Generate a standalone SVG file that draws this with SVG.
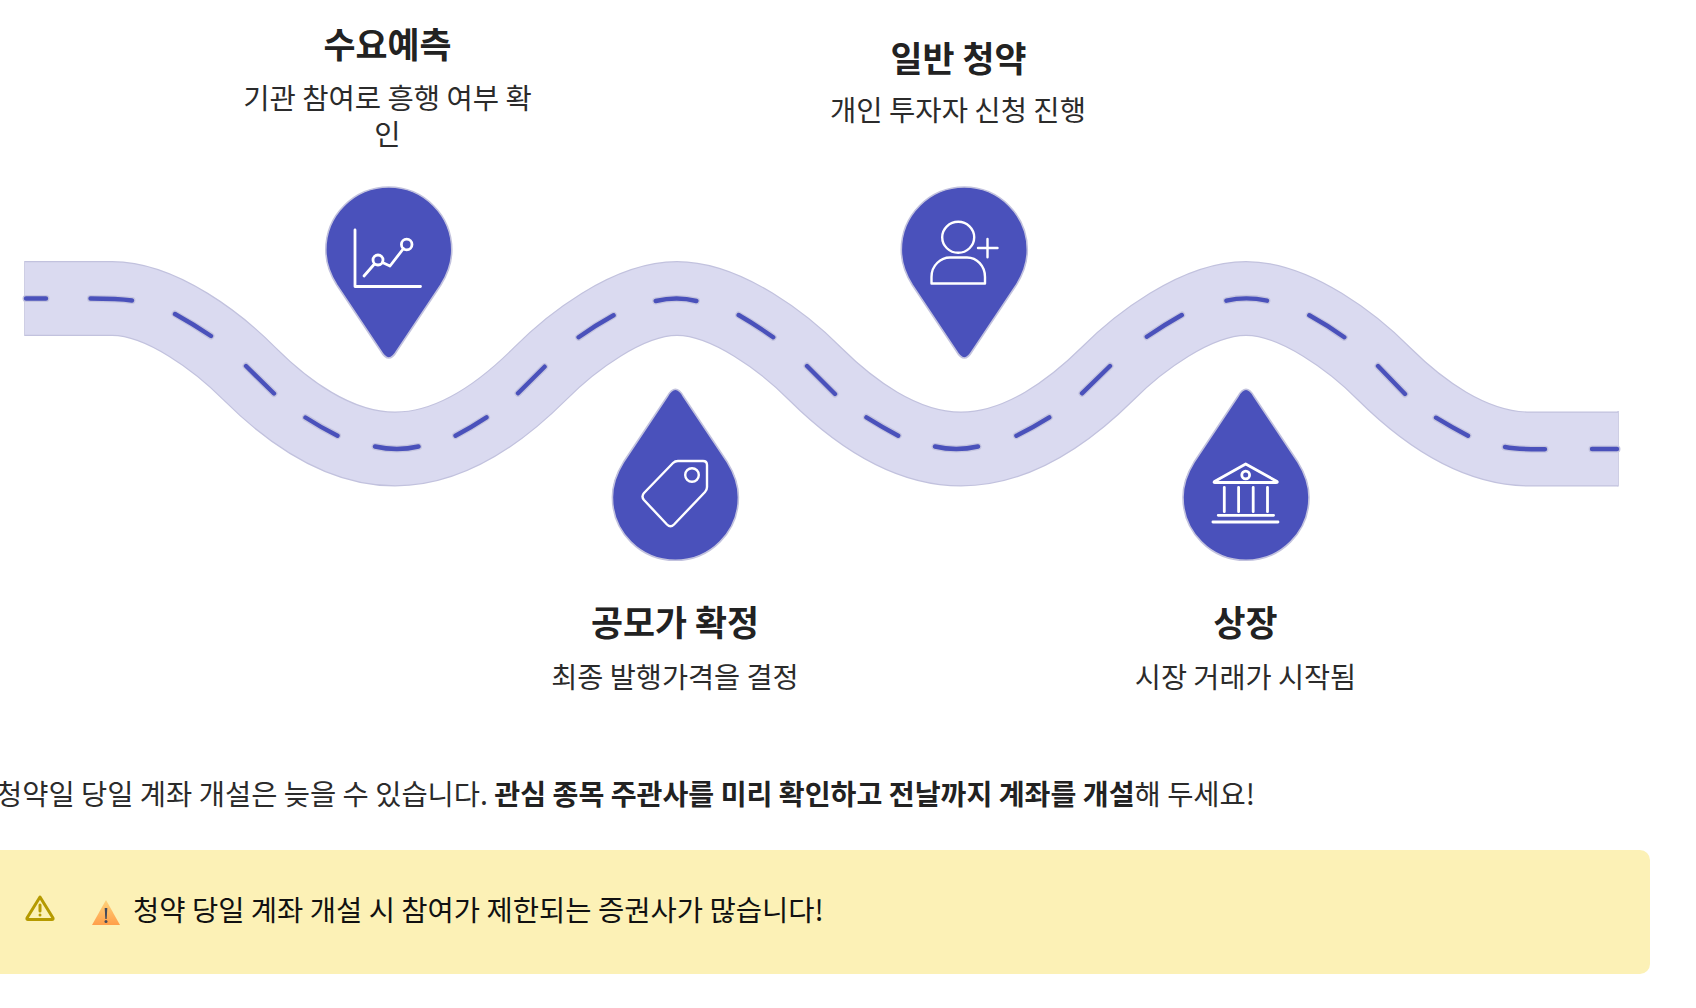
<svg xmlns="http://www.w3.org/2000/svg" width="1696" height="1008" viewBox="0 0 1696 1008">
<style>
text{font-family:"Noto Sans CJK KR","Noto Sans",sans-serif;fill:#2b2b2b}
.t{font-size:34.8px;font-weight:700;text-anchor:middle;fill:#222}
.d{font-size:28.6px;text-anchor:middle}
.d2{font-size:28.35px;text-anchor:middle}
.p{font-size:28.5px}
.road{fill:none;stroke-linejoin:round}
.dash{fill:none;stroke-linecap:round}
.pin{fill:#4a51bb;stroke:#c2c2de;stroke-width:1.6}
.ic{fill:none;stroke:#fff;stroke-width:2.8;stroke-linecap:round;stroke-linejoin:round}
</style>
<defs>
<path id="pinShape" d="M0,-63 C34.8,-63 63,-34.8 63,0 C63,12.5 59.5,23 52,35 L8,101 Q0,115 -8,101 L-52,35 C-59.5,23 -63,12.5 -63,0 C-63,-34.8 -34.8,-63 0,-63 Z"/>
<path id="roadPath" d="M25,298.5 H112 C162,298.5 219.6,343.5 249.5,373.75 C283.4,407.5 336.2,449 395,449 C453.6,449 506.2,407.5 540,373.75 C569.8,343.5 627.4,298.5 677,298.5 C727,298.5 785,343.5 815,373.75 C849,407.5 902,449 961,449 C1020.2,449 1073.4,407.5 1107.5,373.75 C1137.6,343.5 1195.8,298.5 1246,298.5 C1296,298.5 1354,343.5 1384,373.75 C1418,407.5 1471,449 1530,449 H1618"/>
<linearGradient id="emo" x1="0" y1="0" x2="0" y2="1"><stop offset="0" stop-color="#ffd27a"/><stop offset="1" stop-color="#ff9f4a"/></linearGradient>
<path id="dashes" d="M26,298.5 H46 M90.5,298.5 Q118,298.5 132,300.5 M175,314 Q193,324 211,336 M246,366 L274,393.5 M305.5,417.5 Q321,427.5 337.5,435.7 M375,446.5 Q397,451.5 418.5,446.5 M455.5,435.7 Q471,427.5 486.5,417.3 M518,393.3 L544.6,366.7 M578.6,337.3 Q596,325 613.6,315.3 M655.7,301 Q677,296 696.4,301 M738.6,315 Q756,325 773.2,337.3 M807,366 L835,394 M866.4,417.3 Q882,427 898.2,435.7 M935,446.5 Q956,451.5 978,446.5 M1016.4,435.7 Q1033,427.5 1049.3,417.3 M1082,393.3 L1110,366 M1146.8,336.7 Q1164,325 1181.8,315 M1226.4,300.7 Q1246,296 1267,300.7 M1309.3,315.3 Q1327,325 1344.3,337.3 M1378,366 L1405,394 M1436,417.7 Q1452,427.5 1468,435.7 M1505,447 Q1518,449.5 1545,449.2 M1592,449 H1617"/>
</defs>
<rect width="1696" height="1008" fill="#fff"/>
<g id="road">
<use href="#roadPath" class="road" stroke="#c2c2de" stroke-width="75"/>
<path d="M24.200,261 H25.500 V336 H24.200 Z M1617.500,411 H1618.800 V486.500 H1617.500 Z" fill="#c2c2de"/>
<use href="#roadPath" class="road" stroke="#dadaf0" stroke-width="72.6"/>
<use href="#dashes" class="dash" stroke="#c4c4df" stroke-width="7"/>
<use href="#dashes" class="dash" stroke="#4a51bb" stroke-width="4.4"/>
</g>
<g id="node-forecast">
<use href="#pinShape" class="pin" x="388.8" y="250"/>
<g class="ic"><path d="M355,230 V286.500 H420.500"/><path d="M364,276 L374,264.500"/><circle cx="378" cy="260" r="5"/><path d="M382.500,262.500 L390,266 L403.500,248.500"/><circle cx="406.700" cy="244.500" r="5.300"/></g>
<text class="t" x="387.500" y="58">수요예측</text>
<text class="d" x="387.500" y="109">기관 참여로 흥행 여부 확</text>
<text class="d" x="387.500" y="145">인</text>
</g>
<g id="node-price">
<use href="#pinShape" class="pin" transform="translate(675.400,497.300) scale(1,-1)"/>
<g class="ic" style="stroke-width:2.400"><path d="M678,461 H703 Q707,461 707,465 V487 Q707,490 705,492 L674,524.500 Q670.500,528 667,524.500 L644,500 Q641,496.500 644,493 L673,463 Q675,461 678,461 Z"/><circle cx="692" cy="475" r="6.800"/></g>
<text class="t" x="675" y="636">공모가 확정</text>
<text class="d2" x="675" y="688">최종 발행가격을 결정</text>
</g>
<g id="node-subscription">
<use href="#pinShape" class="pin" x="964.300" y="250"/>
<g class="ic" style="stroke-width:2.400"><ellipse cx="958.200" cy="237.300" rx="16" ry="15.500"/><path d="M931.500,283.500 V277 C931.500,265 941,257.500 950,257.500 H967 C977,257.500 985,266 985,277 V283.500 Z"/><path d="M978,248 H997.500 M987.500,239 V257.300"/></g>
<text class="t" x="958.500" y="71.500">일반 청약</text>
<text class="d" x="958" y="120.500">개인 투자자 신청 진행</text>
</g>
<g id="node-listing">
<use href="#pinShape" class="pin" transform="translate(1246,497.300) scale(1,-1)"/>
<g class="ic"><path d="M1245.700,464 L1277,481.500 Q1278,482.500 1276,482.500 H1215 Q1213.500,482.500 1214.500,481.500 Z"/><circle cx="1245.700" cy="475" r="3.900"/><path d="M1224.300,487.300 V511.700 M1238.600,487.300 V511.700 M1253.200,487.300 V511.700 M1267.500,487.300 V511.700 M1218.200,515.300 H1273.600 M1212.900,522 H1278"/></g>
<text class="t" x="1245.500" y="636">상장</text>
<text class="d2" x="1245.500" y="688">시장 거래가 시작됨</text>
</g>
<g id="note">
<text class="p" x="-4" y="805">청약일 당일 계좌 개설은 늦을 수 있습니다. <tspan font-weight="700" style="font-size:28.15px;fill:#222">관심 종목 주관사를 미리 확인하고 전날까지 계좌를 개설</tspan>해 두세요!</text>
</g>
<g id="warning">
<rect x="-10" y="850" width="1660" height="124" rx="10" fill="#fcf1b6"/>
<g fill="none" stroke="#b59a00" stroke-width="3" stroke-linecap="round" stroke-linejoin="round"><path d="M40,897 L53,918 Q53.500,919.500 52,919.500 H28 Q26.500,919.500 27,918 Z"/><path d="M40,905 V911"/></g><circle cx="40" cy="915" r="1.500" fill="#b59a00"/>
<path d="M106,900 L120,925 H92 Z" fill="url(#emo)"/><path d="M104.700,908 H107.300 L106.700,919 H105.300 Z" fill="#444a5c"/><circle cx="106" cy="921.500" r="1.500" fill="#444a5c"/>
<text class="p" x="133" y="921" style="fill:#111;font-size:28.55px">청약 당일 계좌 개설 시 참여가 제한되는 증권사가 많습니다!</text>
</g>
</svg>
